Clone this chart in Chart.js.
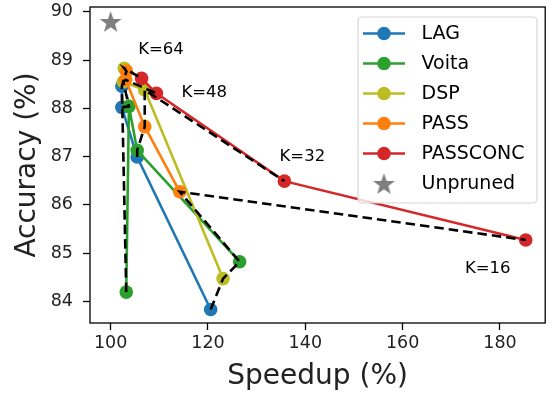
<!DOCTYPE html>
<html>
<head>
<meta charset="utf-8">
<script src="https://cdn.jsdelivr.net/npm/chart.js@4"></script>
<style>
  html, body { margin: 0; padding: 0; background: #fff; }
  #wrap { width: 552px; height: 394px; }
</style>
</head>
<body>
<div id="wrap"><canvas id="chart" width="552" height="394"></canvas></div>
<script>
// values, K = 64, 48, 32, 16
const lagX = [102.3, 102.3, 105.45, 120.55];
const lagY = [88.46, 88.02, 86.99, 83.83];
const voitaX = [103.2, 103.75, 105.45, 126.5];
const voitaY = [84.19, 88.04, 87.13, 84.82];
const dspX = [102.8, 102.6, 107.0, 123.1];
const dspY = [88.83, 88.55, 88.38, 84.47];
const passX = [103.25, 103.1, 107.0, 114.2];
const passY = [88.77, 88.59, 87.62, 86.27];
const passconcX = [106.35, 109.4, 135.7, 185.3];
const passconcY = [88.62, 88.31, 86.49, 85.27];
const unprunedX = [100.0];
const unprunedY = [89.8];

const kNames = ["K=64", "K=48", "K=32", "K=16"];
const kLabelX = [105.66, 114.55, 134.7, 172.8];
const kLabelY = [89.13, 88.24, 86.91, 84.59];

const xTicks = [100, 120, 140, 160, 180];
const yTicks = [84, 85, 86, 87, 88, 89, 90];

const FONT = "'DejaVu Sans', sans-serif";
const toPts = (xs, ys) => xs.map((x, i) => ({ x: x, y: ys[i] }));

const series = [
  { label: "LAG", xs: lagX, ys: lagY, color: "#1f77b4" },
  { label: "Voita", xs: voitaX, ys: voitaY, color: "#2ca02c" },
  { label: "DSP", xs: dspX, ys: dspY, color: "#bcbd22" },
  { label: "PASS", xs: passX, ys: passY, color: "#ff7f0e" },
  { label: "PASSCONC", xs: passconcX, ys: passconcY, color: "#d62728" },
];

// dashed lines join the same K across methods (baselines by accuracy, then PASSCONC)
function kLine(k) {
  const pts = series.slice(0, 4).map(s => ({ x: s.xs[k], y: s.ys[k] }));
  pts.sort((a, b) => a.y - b.y);
  pts.push({ x: passconcX[k], y: passconcY[k] });
  return pts;
}

// filled star for the unpruned marker
function makeStar(r) {
  const c = document.createElement("canvas");
  c.width = c.height = Math.ceil(r * 2 + 2);
  const g = c.getContext("2d");
  const cx = c.width / 2, cy = c.height / 2 + r * 0.1;
  g.beginPath();
  for (let i = 0; i < 10; i++) {
    const rad = i % 2 === 0 ? r : r * 0.4;
    const a = -Math.PI / 2 + i * Math.PI / 5;
    g.lineTo(cx + rad * Math.cos(a), cy + rad * Math.sin(a));
  }
  g.closePath();
  g.fillStyle = "#7f7f7f";
  g.fill();
  return c;
}
const star = makeStar(11.5);

const datasets = [];
kNames.forEach((name, k) => {
  datasets.push({
    label: name + " line",
    data: kLine(k),
    showLine: true,
    borderColor: "#000",
    borderWidth: 2.6,
    borderDash: [9.5, 5],
    pointRadius: 0,
    order: 0,
  });
});
series.forEach((s, i) => {
  datasets.push({
    label: s.label,
    data: toPts(s.xs, s.ys),
    showLine: true,
    borderColor: s.color,
    backgroundColor: s.color,
    borderWidth: 2.6,
    pointRadius: 6.8,
    pointBorderWidth: 0,
    order: 10 - i,
  });
});
datasets.push({
  label: "Unpruned",
  data: toPts(unprunedX, unprunedY),
  showLine: false,
  pointStyle: star,
  order: 1,
});

const framePlugin = {
  id: "frame",
  afterDatasetsDraw(chart) {
    const { ctx, chartArea: a, scales } = chart;
    ctx.save();
    ctx.strokeStyle = "#000";
    ctx.lineWidth = 1.3;
    ctx.strokeRect(a.left, a.top, a.right - a.left, a.bottom - a.top);
    // K annotations
    ctx.fillStyle = "#000";
    ctx.font = "16.5px " + FONT;
    ctx.textAlign = "left";
    ctx.textBaseline = "alphabetic";
    kNames.forEach((t, i) => {
      ctx.fillText(t, scales.x.getPixelForValue(kLabelX[i]), scales.y.getPixelForValue(kLabelY[i]));
    });
    ctx.restore();
  },
  afterDraw(chart) {
    const ctx = chart.ctx;
    const box = { x: 358, y: 17, w: 179, h: 186 };
    ctx.save();
    ctx.beginPath();
    ctx.roundRect(box.x, box.y, box.w, box.h, 4);
    ctx.fillStyle = "rgba(255,255,255,0.8)";
    ctx.fill();
    ctx.strokeStyle = "#d6d6d6";
    ctx.lineWidth = 1.2;
    ctx.stroke();
    ctx.font = "19px " + FONT;
    ctx.textBaseline = "middle";
    const items = series.concat([{ label: "Unpruned" }]);
    items.forEach((s, i) => {
      const cy = 33.5 + i * 30;
      if (s.color) {
        ctx.strokeStyle = s.color;
        ctx.lineWidth = 2.6;
        ctx.beginPath();
        ctx.moveTo(363, cy);
        ctx.lineTo(405, cy);
        ctx.stroke();
        ctx.fillStyle = s.color;
        ctx.beginPath();
        ctx.arc(384, cy, 6.8, 0, Math.PI * 2);
        ctx.fill();
      } else {
        ctx.drawImage(star, 384 - star.width / 2, cy - star.height / 2);
      }
      ctx.fillStyle = "#000";
      ctx.fillText(s.label, 421.5, cy + 1);
    });
    ctx.restore();
  },
};

const noPad = s => { s.paddingTop = 0; s.paddingBottom = 0; s.paddingLeft = 0; s.paddingRight = 0; };

new Chart(document.getElementById("chart"), {
  type: "scatter",
  data: { datasets: datasets },
  options: {
    responsive: false,
    animation: false,
    events: [],
    layout: { padding: { left: 0, right: 5, top: 7, bottom: 0 } },
    plugins: { legend: { display: false }, tooltip: { enabled: false } },
    scales: {
      x: {
        type: "linear",
        min: 95.75,
        max: 189.3,
        afterBuildTicks: s => { s.ticks = xTicks.map(v => ({ value: v })); },
        afterFit: s => { s.height = 71; noPad(s); },
        grid: { drawOnChartArea: false, drawTicks: true, tickLength: 7, color: "#000", tickWidth: 1.3 },
        border: { display: false },
        ticks: { color: "#222", font: { family: FONT, size: 17.5 }, padding: 3, maxRotation: 0 },
        title: { display: true, text: "Speedup (%)", color: "#222", font: { family: FONT, size: 28 }, padding: { top: 0, bottom: 0 } },
      },
      y: {
        type: "linear",
        min: 83.55,
        max: 90.1,
        afterBuildTicks: s => { s.ticks = yTicks.map(v => ({ value: v })); },
        afterFit: s => { s.width = 90; noPad(s); },
        grid: { drawOnChartArea: false, drawTicks: true, tickLength: 7, color: "#000", tickWidth: 1.3 },
        border: { display: false },
        ticks: { color: "#222", font: { family: FONT, size: 17.5 }, padding: 10 },
        title: { display: true, text: "Accuracy (%)", color: "#222", font: { family: FONT, size: 28 }, padding: { top: 11, bottom: 0 } },
      },
    },
  },
  plugins: [framePlugin],
});
</script>
</body>
</html>
